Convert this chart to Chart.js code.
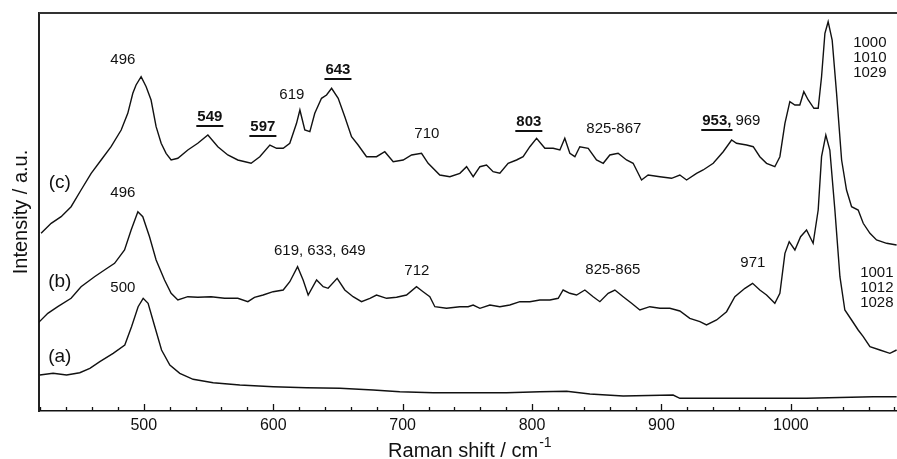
<!DOCTYPE html>
<html>
<head>
<meta charset="utf-8">
<script src="https://cdn.jsdelivr.net/npm/chart.js@4"></script>
<style>
	html, body { margin: 0; padding: 0; background: #fff; }
	#wrap { width: 897px; height: 459px; }
</style>
</head>
<body>
<div id="wrap"><canvas id="ramanChart" width="897" height="459"></canvas></div>
<script>
// Raman shift (cm-1) and intensity (a.u., traces offset)
const shiftA = [419.6, 429.9, 440.3, 450.5, 458.3, 466, 476.3, 485.3, 490.5, 495.6, 499.5, 503.3, 508.5, 513.7, 520.1, 527.8, 538.1, 553.6, 574.2, 600, 625.7, 651.5, 677.2, 697.8, 723.6, 780.3, 806, 826.7, 844.7, 870.4, 909, 914.2, 960.6, 1012.1, 1063.6, 1081.7];
const intensityA = [36, 37.7, 36, 38.3, 42.7, 49.3, 57.7, 66, 84.3, 104.3, 112.7, 107.7, 84.3, 61, 46, 37.7, 31.7, 28.3, 26, 24.3, 23.3, 22.7, 21, 19.3, 18.3, 18.3, 19.3, 19.7, 17, 15, 16, 12.7, 12.7, 12.7, 14.3, 14.3];

const shiftB = [
	418.1, 425.8, 433.5, 443.8, 451.5, 461.9, 469.6, 477.4, 485.1, 490.2,
	495.4, 499.2, 504.4, 509.5, 516, 521.1, 526.3, 534, 541.7, 552,
	562.4, 572.6, 580.4, 585.5, 592.2, 599.9, 607.7, 612.8, 618.8, 623.1,
	627, 633.5, 638.6, 642.4, 649.4, 655.3, 661.7, 668.2, 674.7, 679.8,
	687.6, 695.3, 703, 710.7, 715.8, 721, 724.9, 733.9, 744.2, 750.6,
	754.5, 759.7, 767.4, 775.1, 782.8, 790.6, 798.3, 806, 813.8, 820.2,
	824, 829.2, 834.4, 840.8, 847.2, 852.4, 858.8, 864, 870.4, 876.9,
	883.3, 891, 898.8, 906.5, 914.2, 921.9, 929.7, 934.8, 942.6, 950.3,
	956.7, 964.5, 970.4, 976, 981.2, 987.6, 991.5, 995.4, 998.7, 1003.1,
	1007.5, 1012.1, 1017.2, 1021.1, 1023.7, 1027, 1030.1, 1034, 1037.9, 1041.7,
	1046.9, 1052, 1055.9, 1061.1, 1068.8, 1076.5, 1081.7,
];
const intensityB = [
	87.7, 97.7, 104.3, 112.7, 124.3, 134.3, 141, 147.7, 161, 181,
	199.3, 194.3, 174.3, 151, 131, 117.7, 111, 114.3, 113.7, 114.3,
	112.7, 112.7, 109.3, 113.7, 116, 119.3, 121, 129.3, 144.3, 131,
	116, 131, 124.3, 122.7, 132.7, 121, 114.3, 109.3, 112.7, 116,
	112.7, 113.7, 116, 124.3, 119.3, 114.3, 104.3, 102.7, 104.3, 104.3,
	106, 102.7, 106, 104.3, 106, 109.3, 109.3, 111, 111, 112.7,
	121, 117.7, 116, 121, 114.3, 109.3, 117.7, 121, 114.3, 107.7,
	101, 104.3, 102.7, 102.7, 100, 92.7, 89.3, 86, 91, 99.3,
	114.3, 122.7, 127.7, 121, 116, 107.7, 117.7, 157.7, 169.3, 161,
	174.3, 181, 167.7, 201, 254.3, 276, 261, 201, 134.3, 101,
	91, 81, 74.3, 64.3, 61, 57.7, 61,
];

const shiftC = [
	420.6, 428.4, 436.1, 443.8, 451.5, 459.3, 467, 474.7, 482.5, 487.6,
	491.5, 494, 497.9, 501.8, 505.6, 509.5, 513.4, 517.2, 521.1, 526.3,
	534, 541.7, 549.5, 557.2, 564.9, 572.6, 582.9, 589.6, 597.4, 602.6,
	607.7, 612.8, 618, 620.6, 624.4, 628.3, 632.1, 637.3, 641.2, 645.1,
	650.2, 655.3, 660.5, 665.6, 672.1, 679.8, 686.2, 692.7, 700.4, 706.9,
	714.6, 719.7, 728.7, 736.5, 744.2, 749.4, 754.5, 759.7, 764.8, 769.9,
	775.1, 781.5, 788, 793.1, 798.3, 803.5, 809.9, 816.3, 821.5, 825.3,
	829.2, 833.1, 836.9, 843.4, 849.8, 855, 860.1, 866.5, 873, 878.1,
	884.6, 889.7, 898.8, 907.8, 914.2, 919.4, 927.1, 932.2, 940, 947.7,
	954.2, 958, 965.8, 970.9, 976, 981.2, 987.6, 991.5, 995.4, 999.2,
	1003.1, 1006.9, 1010, 1013.4, 1017.8, 1021.1, 1023.7, 1026.3, 1028.8, 1031.9,
	1035.3, 1039.2, 1043, 1046.9, 1052, 1055.9, 1061.1, 1066.2, 1074, 1081.7,
];
const intensityC = [
	177.7, 187.7, 194.3, 204.3, 221, 237.7, 251, 264.3, 281, 297.7,
	317.7, 326, 334.3, 324.3, 311, 284.3, 267.7, 257.7, 251, 252.7,
	261, 267.7, 276, 264.3, 256, 251, 247.7, 254.3, 266, 262.7,
	262.7, 267.7, 287.7, 301, 281, 279.3, 297.7, 312.7, 316, 322.7,
	312.7, 294.3, 274.3, 266, 254.3, 254.3, 259.3, 249.3, 251, 256,
	257.7, 247.7, 236, 234.3, 237.7, 244.3, 234.3, 244.3, 246, 239.3,
	237.7, 247.7, 251, 254.3, 264.3, 272.7, 262.7, 262.7, 261, 272.7,
	257.7, 254.3, 264.3, 262.7, 251, 247.7, 256, 257.7, 251, 247.7,
	231, 236, 234.3, 232.7, 236, 231, 237.7, 241, 247.7, 259.3,
	271, 267.7, 266, 264.3, 254.3, 247.7, 244.3, 254.3, 287.7, 309.3,
	306, 306, 319.3, 311, 302.7, 302.7, 334.3, 377.7, 389.3, 371,
	317.7, 251, 221, 204.3, 201, 187.7, 177.7, 171, 167.7, 166,
];

const xTicks = [500, 600, 700, 800, 900, 1000];

// peak labels, placed in data units (shift, intensity)
const peakLabels = [
	{ text: "496", x: 483.8, y: 351 },
	{ text: "549", x: 551, y: 294, bold: true },
	{ text: "597", x: 592, y: 284, bold: true },
	{ text: "619", x: 614.4, y: 316 },
	{ text: "643", x: 650, y: 341, bold: true },
	{ text: "710", x: 718.7, y: 277 },
	{ text: "803", x: 797.5, y: 289, bold: true },
	{ text: "825-867", x: 863.2, y: 282 },
	{ text: "953,", x: 942.8, y: 290, bold: true },
	{ text: "969", x: 966.8, y: 290 },
	{ text: "1000", x: 1061, y: 368 },
	{ text: "1010", x: 1061, y: 353 },
	{ text: "1029", x: 1061, y: 338 },
	{ text: "496", x: 483.8, y: 218 },
	{ text: "619, 633, 649", x: 636, y: 160 },
	{ text: "712", x: 711, y: 140 },
	{ text: "825-865", x: 862.4, y: 141 },
	{ text: "971", x: 970.6, y: 148 },
	{ text: "1001", x: 1066.4, y: 138 },
	{ text: "1012", x: 1066.4, y: 123 },
	{ text: "1028", x: 1066.4, y: 108 },
	{ text: "500", x: 483.8, y: 123 },
	{ text: "(c)", x: 435.1, y: 228, big: true },
	{ text: "(b)", x: 435.1, y: 129, big: true },
	{ text: "(a)", x: 435.1, y: 54, big: true },
];

const FONT = "'Liberation Sans', Arial, Helvetica, sans-serif";

function toPoints(xs, ys) {
	return xs.map((x, i) => ({ x, y: ys[i] }));
}

function trace(label, xs, ys) {
	return {
		label,
		data: toPoints(xs, ys),
		borderColor: "#111",
		borderWidth: 1.4,
		pointRadius: 0,
		tension: 0,
		fill: false,
	};
}

const decorations = {
	id: "decorations",
	afterDraw(chart) {
		const { ctx, chartArea } = chart;
		const xs = chart.scales.x;
		const ys = chart.scales.y;
		ctx.save();

		// top frame line
		ctx.strokeStyle = "#333";
		ctx.lineWidth = 2;
		ctx.beginPath();
		ctx.moveTo(chartArea.left, chartArea.top);
		ctx.lineTo(chartArea.right, chartArea.top);
		ctx.stroke();

		// inward ticks, minor every 20
		ctx.strokeStyle = "#111";
		ctx.lineWidth = 1.3;
		for (let v = 420; v <= 1080; v += 20) {
			const px = Math.round(xs.getPixelForValue(v)) + 0.5;
			const len = v % 100 === 0 ? 7 : 4;
			ctx.beginPath();
			ctx.moveTo(px, chartArea.bottom);
			ctx.lineTo(px, chartArea.bottom - len);
			ctx.stroke();
		}

		// peak labels
		ctx.fillStyle = "#111";
		ctx.textBaseline = "middle";
		ctx.textAlign = "center";
		for (const lab of peakLabels) {
			const px = xs.getPixelForValue(lab.x);
			const py = ys.getPixelForValue(lab.y);
			const size = lab.big ? 19 : 15;
			ctx.font = `${lab.bold ? "bold " : ""}${size}px ${FONT}`;
			ctx.fillText(lab.text, px, py);
			if (lab.bold) {
				const w = ctx.measureText(lab.text).width;
				ctx.lineWidth = 2;
				ctx.beginPath();
				ctx.moveTo(px - w / 2 - 1, py + 9);
				ctx.lineTo(px + w / 2 + 1, py + 9);
				ctx.stroke();
			}
		}

		// axis titles
		ctx.font = `20px ${FONT}`;
		ctx.textAlign = "left";
		ctx.textBaseline = "alphabetic";
		const main = "Raman shift / cm";
		const mainW = ctx.measureText(main).width;
		ctx.font = `14px ${FONT}`;
		const supW = ctx.measureText("-1").width;
		const startX = (xs.getPixelForValue(500) + xs.getPixelForValue(1000)) / 2 - (mainW + supW) / 2 + 2;
		ctx.font = `20px ${FONT}`;
		ctx.fillText(main, startX, 457);
		ctx.font = `14px ${FONT}`;
		ctx.fillText("-1", startX + mainW + 1, 447);

		ctx.font = `20px ${FONT}`;
		ctx.translate(27, (chartArea.top + chartArea.bottom) / 2);
		ctx.rotate(-Math.PI / 2);
		ctx.textAlign = "center";
		ctx.fillText("Intensity / a.u.", 0, 0);
		ctx.restore();
	},
};

Chart.defaults.font.family = FONT;
Chart.defaults.color = "#111";

new Chart(document.getElementById("ramanChart"), {
	type: "line",
	data: {
		datasets: [
			trace("(a)", shiftA, intensityA),
			trace("(b)", shiftB, intensityB),
			trace("(c)", shiftC, intensityC),
		],
	},
	options: {
		responsive: false,
		devicePixelRatio: 1,
		animation: false,
		layout: { padding: { top: 13, left: 0, right: 0, bottom: 0 } },
		plugins: {
			legend: { display: false },
			tooltip: { enabled: false },
		},
		scales: {
			x: {
				type: "linear",
				min: 419,
				max: 1082,
				afterBuildTicks: (scale) => {
					scale.ticks = xTicks.map((value) => ({ value }));
				},
				afterFit: (scale) => {
					scale.height = 48;
				},
				grid: { display: false, drawTicks: false },
				border: { display: true, color: "#111", width: 1.5 },
				ticks: {
					font: { size: 16 },
					color: "#111",
					padding: 5,
					maxRotation: 0,
					callback: (value) => String(value),
				},
			},
			y: {
				min: 0,
				max: 398,
				afterFit: (scale) => {
					scale.width = 39;
				},
				grid: { display: false, drawTicks: false },
				border: { display: true, color: "#222", width: 2 },
				ticks: { display: false },
			},
		},
	},
	plugins: [decorations],
});
</script>
</body>
</html>
